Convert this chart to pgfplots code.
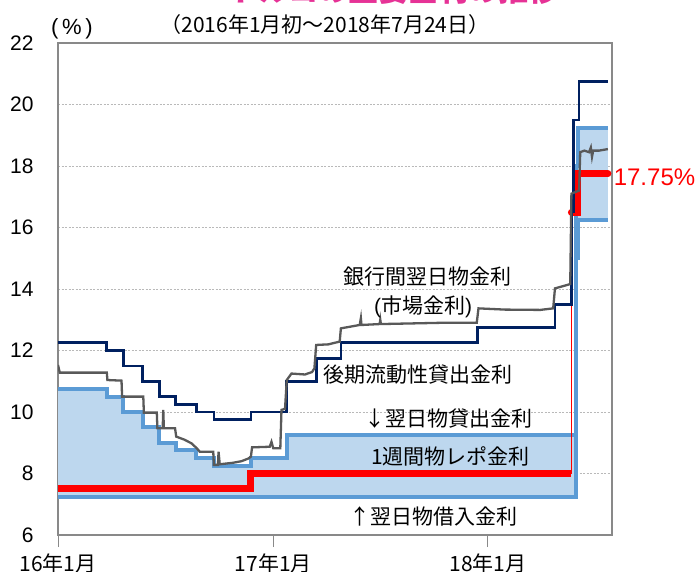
\documentclass[border=0pt]{standalone}
\usepackage{pgfplots}
\pgfplotsset{compat=1.18}
\usepgfplotslibrary{fillbetween}
\usepackage{fontspec}
\setmainfont{Liberation Sans}
\newfontfamily\cjk{Noto Sans CJK JP}
\definecolor{navy}{RGB}{0,32,96}
\definecolor{lblue}{RGB}{91,155,213}
\definecolor{lfill}{RGB}{189,215,238}
\definecolor{ggray}{RGB}{89,89,89}
\definecolor{axgray}{RGB}{137,137,137}
\definecolor{magtitle}{RGB}{230,50,150}
\begin{document}
\begin{tikzpicture}[x=1pt,y=1pt]
\begin{axis}[
  at={(58pt,36pt)}, anchor=south west,
  width=554pt, height=492pt, scale only axis,
  xmin=0, xmax=942, ymin=6, ymax=22,
  ytick={6,8,...,22},
  xtick={0,366,731},
  xticklabels={{\cjk 16年1月},{\cjk 17年1月},{\cjk 18年1月}},
  tick align=outside, tick pos=left,
  major tick length=12pt,
  xtick style={draw=axgray, line width=1pt},
  ytick style={draw=none},
  axis line style={draw=axgray, line width=1.2pt},
  ymajorgrids,
  grid style={draw=gray!55, line width=0.8pt, dash pattern=on 2pt off 1.5pt},
  /pgf/number format/assume math mode=true,
  yticklabel style={font=\fontsize{21}{24}\selectfont, anchor=east, xshift=-9pt},
  xticklabel style={font=\fontsize{21}{24}\selectfont, yshift=-3pt},
]
% overnight lending (upper) and borrowing (lower)
\addplot[name path=up, const plot, draw=none, forget plot] coordinates {
 (0,10.75)(83,10.5)(111,10.0)(144,9.5)(172,9.0)(200,8.75)(235,8.5)(265,8.25)(328,8.5)(389,9.25)(881,18.0)(885,19.25)(935,19.25)};
\addplot[name path=lo, const plot, draw=none, forget plot] coordinates {
 (0,7.25)(881,15.0)(885,16.25)(935,16.25)};
\addplot[lfill, forget plot] fill between[of=up and lo];
\addplot[const plot, lblue, line width=4pt] coordinates {
 (0,10.75)(83,10.5)(111,10.0)(144,9.5)(172,9.0)(200,8.75)(235,8.5)(265,8.25)(328,8.5)(389,9.25)(881,18.0)(885,19.25)(935,19.25)};
\addplot[const plot, lblue, line width=4pt] coordinates {
 (0,7.25)(881,15.0)(885,16.25)(935,16.25)};
% one-week repo
\addplot[const plot, red, line width=7pt] coordinates {(0,7.5)(328,8.0)(873,8.0)};
\addplot[red, line width=1.8pt] coordinates {(873,8.0)(873,16.5)};
\addplot[const plot, red, line width=7pt, line cap=round] coordinates {(873,16.5)(884,17.75)(935,17.75)};
% late liquidity window lending
\addplot[const plot, navy, line width=2.7pt] coordinates {
 (0,12.25)(83,12.0)(111,11.5)(144,11.0)(172,10.5)(200,10.25)(235,10.0)(265,9.75)(328,10.0)(389,11.0)(440,11.75)(481,12.25)(713,12.75)(845,13.5)(873,16.5)(876,19.5)(886,20.75)(935,20.75)};
% interbank overnight
\addplot[ggray, line width=2.3pt] coordinates {
 (0,11.53)(3,11.28)(83,11.28)(84,11.04)(108,11.02)(109,10.5)(145,10.5)(146,9.98)(168,9.98)(169,9.47)(178,9.47)(179,10.07)(180,9.47)(199,9.47)(201,9.2)(215,9.1)(227,8.98)(236,8.82)(241,8.71)(264,8.71)(265,8.28)(272,8.28)(273,8.71)(275,8.3)(298,8.35)(312,8.4)(324,8.49)(328,8.55)(330,8.85)(360,8.87)(363,9.03)(366,8.82)(378,8.82)(380,10.07)(386,10.1)(389,11.04)(397,11.25)(420,11.22)(432,11.3)(436,11.42)(439,12.18)(460,12.2)(479,12.29)(481,12.72)(513,12.83)(515,13.05)(516,12.83)(547,12.86)(548,13.0)(549,12.86)(600,12.88)(650,12.9)(712,12.9)(715,13.37)(760,13.33)(820,13.32)(842,13.37)(845,14.02)(860,14.1)(871,14.16)(873,17.1)(886,17.2)(888,18.45)(895,18.5)(903,18.45)(906,18.6)(908,18.3)(910,18.5)(920,18.5)(935,18.55)};
\end{axis}
\node[font=\cjk\fontsize{21}{24}\selectfont] at (427,294) {銀行間翌日物金利};
\node[font=\fontsize{21}{24}\selectfont] at (423,264.5) {(\cjk 市場金利\rmfamily)};
\node[font=\cjk\fontsize{21}{24}\selectfont] at (417.5,196) {後期流動性貸出金利};
\node[font=\cjk\fontsize{21}{24}\selectfont] at (448.7,152) {↓翌日物貸出金利};
\node[font=\cjk\fontsize{21}{24}\selectfont] at (450.5,115) {1週間物レポ金利};
\node[font=\cjk\fontsize{21}{24}\selectfont] at (433,55) {↑翌日物借入金利};
\node[font=\fontsize{24}{28}\selectfont, text=red] at (654.5,394) {17.75\%};
\node[font=\fontsize{22}{24}\selectfont] at (72,542) {(\,\%\,)};
\node[font=\cjk\fontsize{21}{24}\selectfont] at (325,546) {（2016年1月初～2018年7月24日）};
\node[font=\cjk\bfseries\fontsize{30}{34}\selectfont, text=magtitle, anchor=base east] at (562,569.5) {トルコの主要金利の推移};
\pgfresetboundingbox
\path[use as bounding box] (0,0) rectangle (696,571);
\end{tikzpicture}
\end{document}
